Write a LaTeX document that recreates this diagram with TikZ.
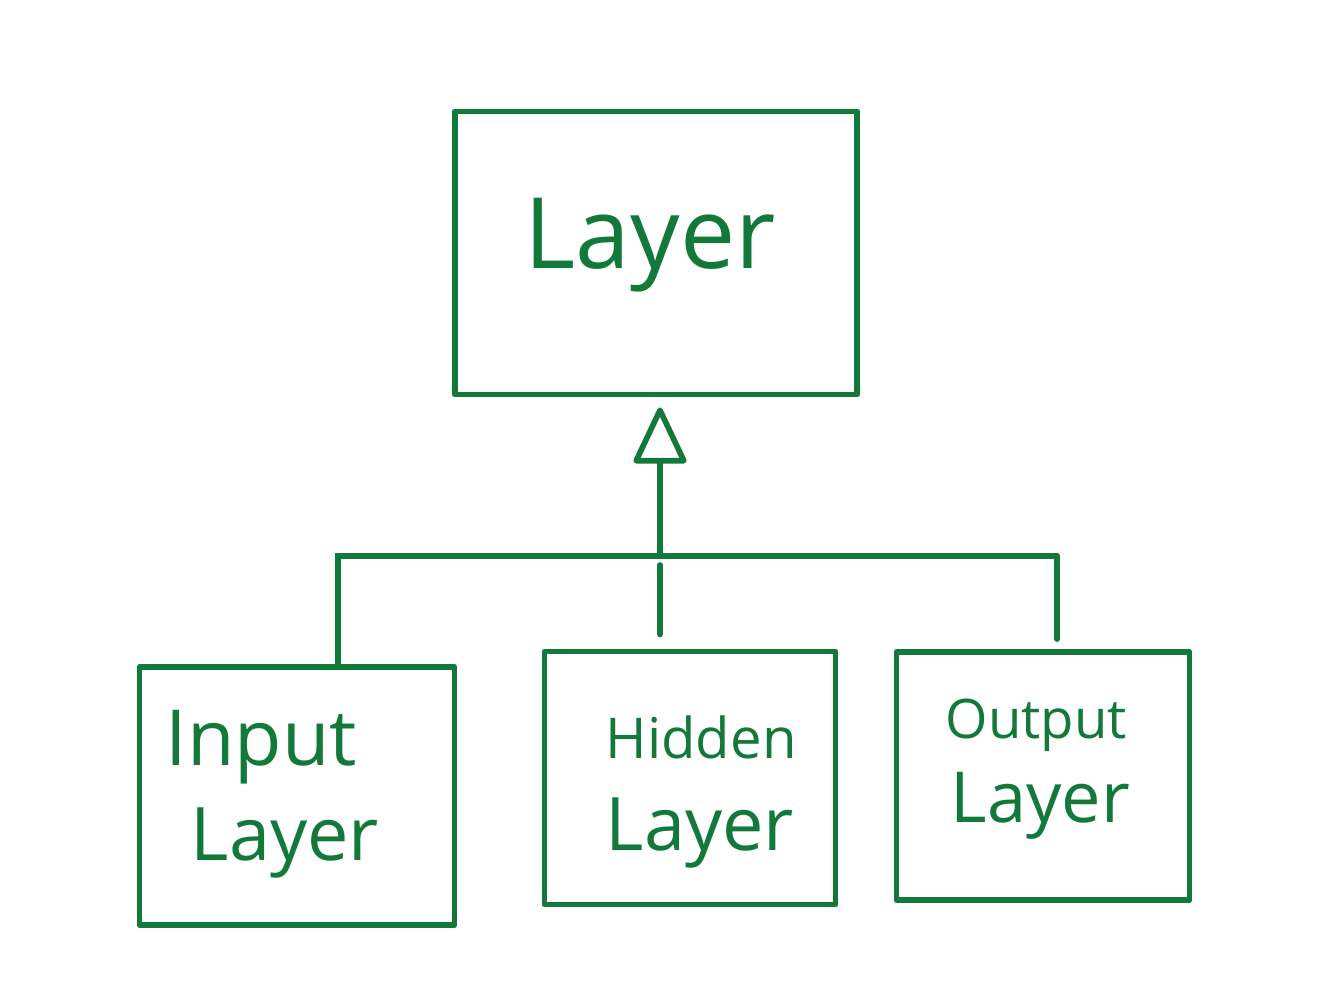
\documentclass[tikz,border=0pt]{standalone}
\usepackage{fontspec}
\setmainfont{Open Sans}
\usetikzlibrary{arrows.meta}
\definecolor{ink}{RGB}{18,121,58}
\begin{document}
\begin{tikzpicture}[x=0.01cm,y=-0.01cm,
  box/.style={draw=ink, line width=1.6pt, rectangle, inner sep=0pt, line join=round},
  lbl/.style={text=ink, anchor=base west, inner sep=0pt},
  wire/.style={draw=ink, line width=1.6pt, line cap=round}]
\useasboundingbox (0,0) rectangle (1343,1003);
% boxes
\node[box, minimum width=4.02cm, minimum height=2.83cm] (layer) at (656,253) {};
\node[box, minimum width=3.15cm, minimum height=2.58cm] (in) at (297,796) {};
\node[box, minimum width=2.91cm, minimum height=2.53cm] (hid) at (690,778) {};
\node[box, minimum width=2.93cm, minimum height=2.48cm] (out) at (1043,776) {};
% labels
\node[lbl, anchor=base, font=\fontsize{28}{32}\selectfont] (layert) at (650,268) {Layer};
\node[lbl, font=\fontsize{22}{26}\selectfont] (in1) at (165,765) {Input};
\node[lbl, font=\fontsize{21}{25}\selectfont] (in2) at (190,860) {Layer};
\node[lbl, font=\fontsize{16}{20}\selectfont] (hid1) at (605,758) {Hidden};
\node[lbl, font=\fontsize{21}{25}\selectfont] (hid2) at (605,850) {Layer};
\node[lbl, font=\fontsize{15.5}{19}\selectfont] (out1) at (945,738) {Output};
\node[lbl, font=\fontsize{20}{24}\selectfont] (out2) at (950,822) {Layer};
% connectors
\coordinate (jL) at (338,556);
\coordinate (jM) at (660,556);
\coordinate (jR) at (1057,556);
\draw[wire] (in.north -| jL) -- (jL) -- (jR);
\draw[wire, shorten <=0.1cm] (out.north -| jR) -- (jR);
\draw[wire, shorten <=0.14cm, shorten >=0.09cm] (hid.north -| jM) -- (jM);
\draw[wire, -{Triangle[open, length=0.6cm, width=0.55cm, round]}, shorten >=0.1cm] (jM) -- (layer.south -| jM);
\end{tikzpicture}
\end{document}
